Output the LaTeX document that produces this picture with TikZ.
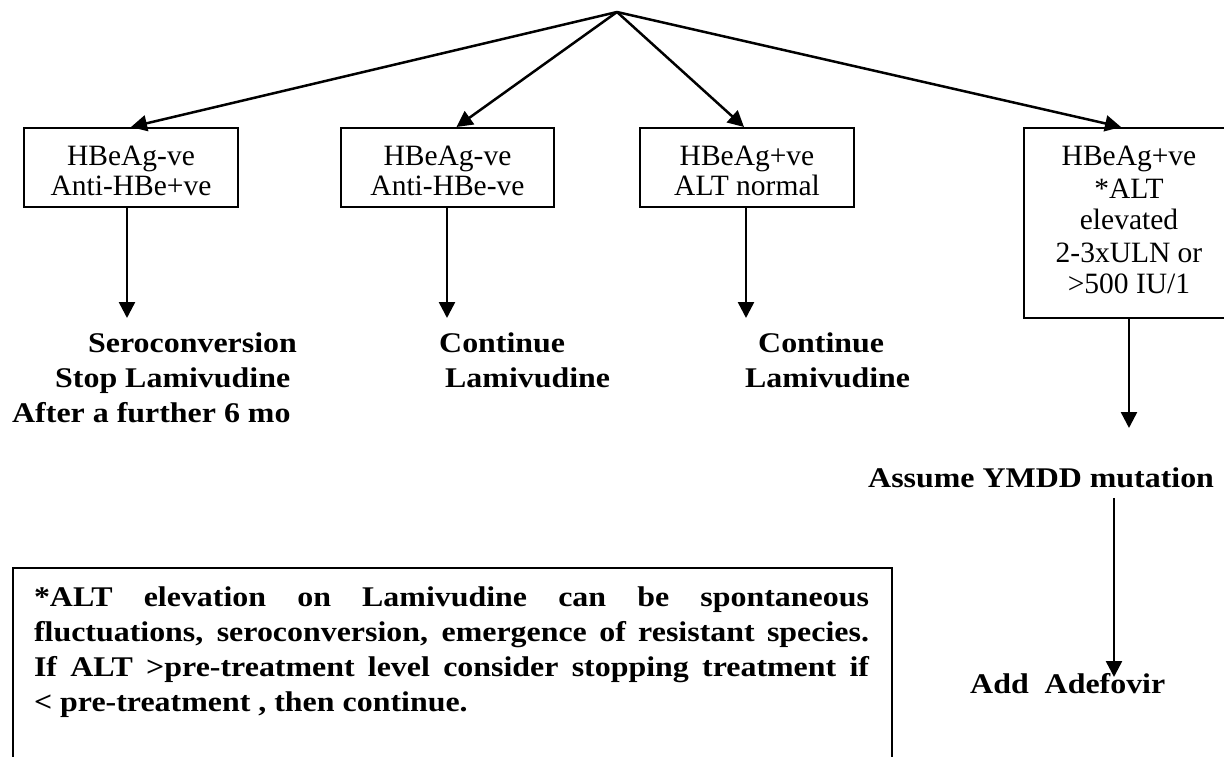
\documentclass[tikz,border=0pt]{standalone}
\usepackage{fontspec}
\setmainfont{Liberation Serif}
\newfontfamily\widebf{Liberation Serif}[FakeStretch=1.12]
\usetikzlibrary{arrows.meta}
\begin{document}
\begin{tikzpicture}[x=1pt,y=-1pt,
  arr/.style={line width=2.5pt,-{Triangle[length=16pt,width=16pt]}},
  testbox/.style={draw,line width=2pt,inner sep=0pt,anchor=north west},
  boldtext/.style={inner sep=0pt,anchor=north west,align=left,
    font=\widebf\bfseries\fontsize{28.5}{35}\selectfont},
]
\useasboundingbox (0,0) rectangle (1224,757);
\fill[white] (0,0) rectangle (1224,757);

\coordinate (top) at (617,12);

\node[testbox] (b1) at (23,127) {\parbox[c][79pt][t]{214pt}{\centering\fontsize{29.5}{30}\selectfont\vspace*{17pt}\strut HBeAg-ve\\Anti-HBe+ve}};
\node[testbox] (b2) at (340,127) {\parbox[c][79pt][t]{213pt}{\centering\fontsize{29.5}{30}\selectfont\vspace*{17pt}\strut HBeAg-ve\\Anti-HBe-ve}};
\node[testbox] (b3) at (639,127) {\parbox[c][79pt][t]{214pt}{\centering\fontsize{29.5}{30}\selectfont\vspace*{17pt}\strut HBeAg+ve\\ALT normal}};
\node[testbox] (b4) at (1023,127) {\parbox[c][190pt][t]{210pt}{\centering\fontsize{29.5}{32}\selectfont\vspace*{15.6pt}\strut HBeAg+ve\\{}*ALT\\elevated\\2-3xULN or\\>500 IU/1}};

\node[boldtext] (t1) at (12,327.5) {\hspace*{76pt}\strut Seroconversion\\\hspace*{43pt}Stop Lamivudine\\After a further 6 mo};
\node[boldtext] (t2) at (439,327.5) {\strut Continue\\\hspace*{6pt}Lamivudine};
\node[boldtext] (t3) at (745,327.5) {\hspace*{13pt}\strut Continue\\Lamivudine};
\node[boldtext] (t4) at (868,462.5) {\strut Assume YMDD mutation};
\node[boldtext] (t5) at (970,668.5) {\strut Add\ \ Adefovir};

\node[testbox] (note) at (12,567) {\parbox[c][230pt][t]{879pt}{%
  \setlength\leftskip{21pt}\setlength\rightskip{23pt}%
  \tolerance=10000 \hbadness=10000 \hyphenpenalty=10000 \exhyphenpenalty=10000
  \widebf\bfseries\fontsize{28.5}{35}\selectfont
  \vspace*{13.5pt}\strut *ALT elevation on Lamivudine can be spontaneous\linebreak
  fluctuations, seroconversion, emergence of resistant species.\linebreak
  If ALT >pre-treatment level consider stopping treatment if\linebreak
  < pre-treatment , then continue.\par}};

\draw[arr] (top) -- (b1.north);
\draw[arr] (top) -- ([xshift=9pt]b2.north);
\draw[arr] (top) -- ([xshift=-3pt]b3.north);
\draw[arr] (top) -- ([xshift=-8pt]b4.north);

\coordinate (e1) at (127,318);
\coordinate (e2) at (447,318);
\coordinate (e3) at (746,318);
\coordinate (e4) at (1129,428);
\coordinate (e5) at (1114,677);
\draw[arr] (b1.south -| e1) -- (e1);
\draw[arr] (b2.south -| e2) -- (e2);
\draw[arr] (b3.south -| e3) -- (e3);
\draw[arr] (b4.south -| e4) -- (e4);
\draw[arr] (t4.south -| e5) -- (e5);
\end{tikzpicture}
\end{document}
